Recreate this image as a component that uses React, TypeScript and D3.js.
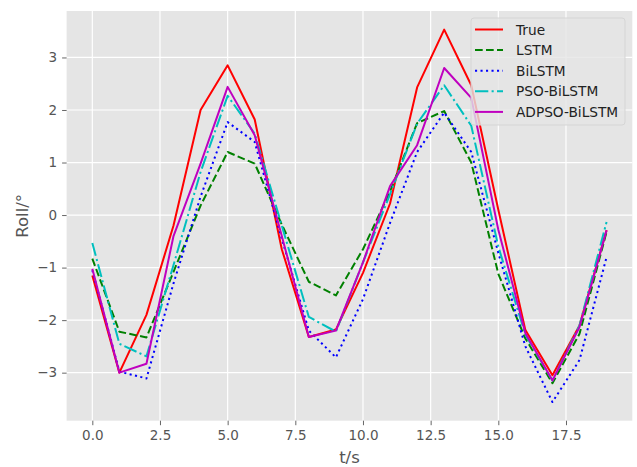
import React, { useEffect, useRef } from "react";
import * as d3 from "d3";

// time axis (s)
const tValues = [0, 1, 2, 3, 4, 5, 6, 7, 8, 9, 10, 11, 12, 13, 14, 15, 16, 17, 18, 19];

// roll angle per model (deg)
const trueVals = [-1.15, -3.0, -1.9, -0.2, 2.0, 2.85, 1.82, -0.65, -2.32, -2.18, -1.1, 0.22, 2.43, 3.53, 2.47, 0.1, -2.19, -3.05, -2.1, -0.29];
const lstmVals = [-0.83, -2.22, -2.33, -1.08, 0.18, 1.2, 0.98, -0.18, -1.27, -1.53, -0.65, 0.45, 1.75, 1.98, 1.0, -1.12, -2.35, -3.2, -2.26, -0.32];
const bilstmVals = [-1.05, -2.98, -3.11, -1.3, 0.35, 1.77, 1.39, -0.45, -2.2, -2.71, -1.6, -0.15, 1.2, 1.95, 1.2, -0.72, -2.5, -3.56, -2.76, -0.8];
const psoVals = [-0.53, -2.45, -2.69, -0.95, 0.82, 2.27, 1.55, -0.2, -1.94, -2.22, -0.9, 0.4, 1.74, 2.47, 1.7, -0.6, -2.28, -3.15, -2.1, -0.13];
const adpsoVals = [-1.02, -3.0, -2.83, -0.4, 0.98, 2.44, 1.52, -0.4, -2.32, -2.2, -0.9, 0.55, 1.33, 2.8, 2.23, -0.28, -2.25, -3.15, -2.13, -0.29];

const seriesNames = ["True", "LSTM", "BiLSTM", "PSO-BiLSTM", "ADPSO-BiLSTM"];
const xTicks = [0, 2.5, 5, 7.5, 10, 12.5, 15, 17.5];
const yTicks = [-3, -2, -1, 0, 1, 2, 3];

const W = 637, H = 467;
const FONT = "'DejaVu Sans', sans-serif";

export default function App() {
  const ref = useRef<SVGSVGElement>(null);

  useEffect(() => {
    const svg = d3.select(ref.current);
    svg.selectAll("*").remove();

    const left = 66.6, right = 632.3, top = 11, bottom = 420.7;

    const allVals = [...trueVals, ...lstmVals, ...bilstmVals, ...psoVals, ...adpsoVals];
    const yMin = d3.min(allVals)!, yMax = d3.max(allVals)!;
    const yPad = (yMax - yMin) * 0.05;
    const xPad = (d3.max(tValues)! - d3.min(tValues)!) * 0.05;

    const x = d3.scaleLinear()
      .domain([d3.min(tValues)! - xPad, d3.max(tValues)! + xPad])
      .range([left, right]);
    const y = d3.scaleLinear()
      .domain([yMin - yPad, yMax + yPad])
      .range([bottom, top]);

    // background
    svg.append("rect")
      .attr("x", left).attr("y", top)
      .attr("width", right - left).attr("height", bottom - top)
      .attr("fill", "#e5e5e5");

    // grid
    const grid = svg.append("g");
    grid.selectAll("line.gx").data(xTicks).enter().append("line")
      .attr("x1", d => x(d)).attr("x2", d => x(d))
      .attr("y1", top).attr("y2", bottom)
      .attr("stroke", "#fff").attr("stroke-width", 1.2);
    grid.selectAll("line.gy").data(yTicks).enter().append("line")
      .attr("y1", d => y(d)).attr("y2", d => y(d))
      .attr("x1", left).attr("x2", right)
      .attr("stroke", "#fff").attr("stroke-width", 1.2);

    // axes
    const xAxis = d3.axisBottom(x).tickValues(xTicks)
      .tickFormat(d => d3.format(".1f")(d as number))
      .tickSize(4.5).tickPadding(5);
    const gx = svg.append("g").attr("transform", `translate(0,${bottom})`).call(xAxis);
    const yAxis = d3.axisLeft(y).tickValues(yTicks)
      .tickFormat(d => d3.format("d")(d as number).replace("-", "\u2212"))
      .tickSize(4.5).tickPadding(5);
    const gy = svg.append("g").attr("transform", `translate(${left},0)`).call(yAxis);

    [gx, gy].forEach(g => {
      g.select(".domain").remove();
      g.selectAll(".tick line").attr("stroke", "#555").attr("stroke-width", 0.9);
      g.selectAll(".tick text")
        .attr("fill", "#555")
        .style("font-family", FONT)
        .style("font-size", "13.5px");
    });

    svg.append("text")
      .attr("x", (left + right) / 2).attr("y", 463)
      .attr("text-anchor", "middle")
      .attr("fill", "#555")
      .style("font-family", FONT).style("font-size", "16.5px")
      .text("t/s");

    svg.append("text")
      .attr("transform", `translate(28,${(top + bottom) / 2}) rotate(-90)`)
      .attr("text-anchor", "middle")
      .attr("fill", "#555")
      .style("font-family", FONT).style("font-size", "16.5px")
      .text("Roll/°");

    const series = [
      { name: seriesNames[0], values: trueVals, color: "#ff0000", dash: null },
      { name: seriesNames[1], values: lstmVals, color: "#008000", dash: "7.7,3.3" },
      { name: seriesNames[2], values: bilstmVals, color: "#0000ff", dash: "2.1,3.4" },
      { name: seriesNames[3], values: psoVals, color: "#00bfbf", dash: "13.3,3.3,2.1,3.3" },
      { name: seriesNames[4], values: adpsoVals, color: "#bf00bf", dash: null },
    ];

    const line = d3.line<number>()
      .x((_, i) => x(tValues[i]))
      .y(d => y(d));

    const plot = svg.append("g");
    series.forEach(s => {
      plot.append("path")
        .datum(s.values)
        .attr("d", line)
        .attr("fill", "none")
        .attr("stroke", s.color)
        .attr("stroke-width", 2)
        .attr("stroke-dasharray", s.dash)
        .attr("stroke-linejoin", "round");
    });

    // legend
    const lg = svg.append("g");
    lg.append("rect")
      .attr("x", 471).attr("y", 18).attr("width", 154).attr("height", 107)
      .attr("rx", 3)
      .attr("fill", "#e5e5e5").attr("fill-opacity", 0.8)
      .attr("stroke", "#d5d5d5").attr("stroke-width", 1);
    series.forEach((s, i) => {
      const ly = 29.5 + i * 20.6;
      lg.append("line")
        .attr("x1", 475).attr("x2", 503)
        .attr("y1", ly).attr("y2", ly)
        .attr("stroke", s.color).attr("stroke-width", 2)
        .attr("stroke-dasharray", s.dash);
      lg.append("text")
        .attr("x", 516).attr("y", ly + 5)
        .attr("fill", "#222")
        .style("font-family", FONT).style("font-size", "13.7px")
        .text(s.name);
    });
  }, []);

  return (
    <svg ref={ref} width={W} height={H}
      style={{ position: "absolute", left: 0, top: 0, background: "#fff" }} />
  );
}
